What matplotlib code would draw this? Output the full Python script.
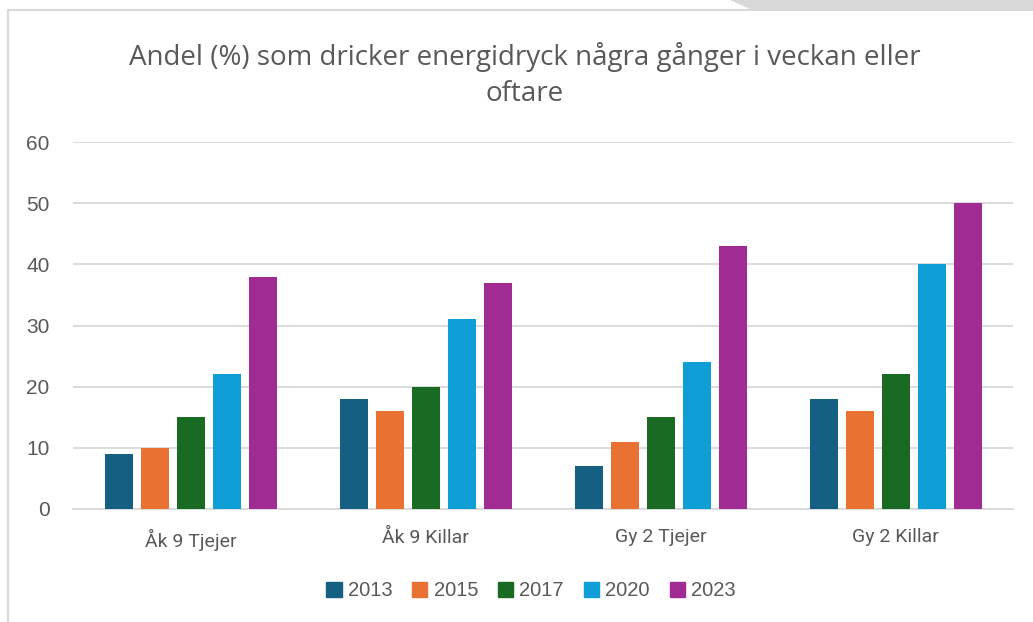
import matplotlib.pyplot as plt
import numpy as np
from matplotlib.lines import Line2D
from matplotlib.patches import Polygon

categories = ['Åk 9 Tjejer', 'Åk 9 Killar', 'Gy 2 Tjejer', 'Gy 2 Killar']
years = ['2013', '2015', '2017', '2020', '2023']
values = {
    '2013': [9, 18, 7, 18],
    '2015': [10, 16, 11, 16],
    '2017': [15, 20, 15, 22],
    '2020': [22, 31, 24, 40],
    '2023': [38, 37, 43, 50],
}
colors = ['#156082', '#E97132', '#196B24', '#0F9ED5', '#A02B93']
yticks = [0, 10, 20, 30, 40, 50, 60]

text_col = '#595959'
grid_col = '#D9D9D9'

fig = plt.figure(figsize=(10.33, 6.22), dpi=100)
ax = fig.add_axes([73 / 1033, 1 - 509 / 622, 940 / 1033, 367 / 622])

x = np.arange(len(categories))
step = 36 / 235
width = 28 / 235
for i, (yr, c) in enumerate(zip(years, colors)):
    ax.bar(x + (i - 2) * step, values[yr], width=width, color=c, zorder=3)

ax.set_xlim(-0.5, len(categories) - 0.5)
ax.set_ylim(0, 60)
ax.set_yticks(yticks)
ax.set_yticklabels([str(t) for t in yticks], fontsize=15, color=text_col,
                   family='Liberation Sans')
ax.set_xticks(x)
ax.set_xticklabels(categories, fontsize=14, color=text_col, family='Roboto')
ax.tick_params(axis='y', length=0, pad=17)
ax.tick_params(axis='x', length=0, pad=14)
ax.grid(axis='y', color=grid_col, linewidth=1.3, zorder=0)
for s in ['top', 'right', 'left']:
    ax.spines[s].set_visible(False)
ax.spines['bottom'].set_color(grid_col)
ax.spines['bottom'].set_linewidth(1.3)

fig.text(525 / 1033, 1 - 75 / 622,
         'Andel (%) som dricker energidryck några gånger i veckan eller\noftare',
         ha='center', va='center', fontsize=20, color=text_col,
         family='Open Sans', linespacing=1.42)

handles = [plt.Rectangle((0, 0), 1, 1, color=c) for c in colors]
fig.legend(handles, years, loc='center', bbox_to_anchor=(531 / 1033, 1 - 591 / 622),
           ncol=5, frameon=False, handlelength=0.75, handleheight=0.75,
           handletextpad=0.3, columnspacing=1.0,
           prop={'family': 'Liberation Sans', 'size': 14.5}, labelcolor=text_col)

# chart frame (left and top edge visible in the screenshot)
fig.add_artist(Line2D([8 / 1033, 8 / 1033], [0, 1 - 10 / 622], color=grid_col,
                      linewidth=1.5, transform=fig.transFigure))
fig.add_artist(Line2D([8 / 1033, 1], [1 - 10 / 622, 1 - 10 / 622], color=grid_col,
                      linewidth=1.5, transform=fig.transFigure))
# grey shape from the page above the chart
shape = Polygon([(730 / 1033, 1), (752 / 1033, 1 - 10 / 622), (1, 1 - 10 / 622), (1, 1)],
                closed=True, facecolor='#D9D9D9', edgecolor='none',
                transform=fig.transFigure)
fig.add_artist(shape)

plt.savefig('out.png', dpi=100)
